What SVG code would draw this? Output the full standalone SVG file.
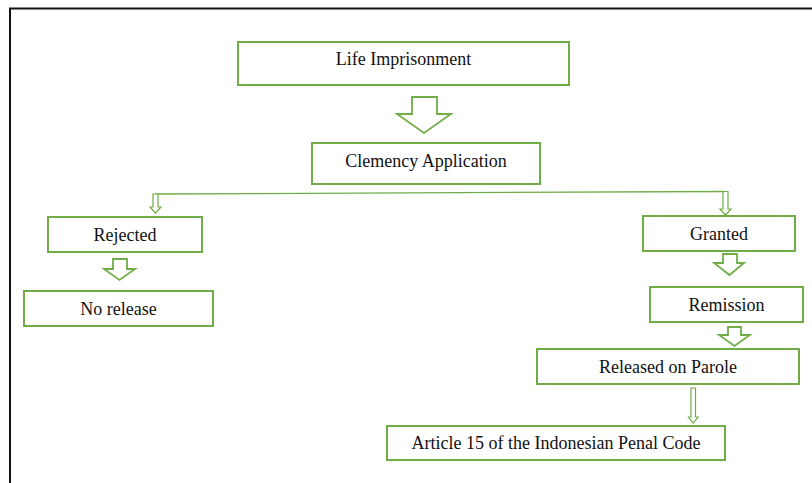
<svg xmlns="http://www.w3.org/2000/svg" width="812" height="483" viewBox="0 0 812 483">
<style>
.box{fill:#fff;stroke:#70ad47;stroke-width:2}
.arr{fill:#fff;stroke:#70ad47;stroke-width:1.8;stroke-linejoin:miter}
.thin{fill:#fff;stroke:#70ad47;stroke-width:1.2}
.lbl{font-family:"Liberation Serif","Times New Roman",serif;font-size:18px;fill:#111;text-anchor:middle}
</style>
<rect width="812" height="483" fill="#fff"/>
<path d="M10,483 V8.5 H812" fill="none" stroke="#111" stroke-width="2"/>
<g id="connectors">
<polygon class="arr" points="412,97 437,97 437,114 451,114 424,133 397,114 412,114"/>
<line x1="155" y1="194" x2="725" y2="191.5" stroke="#70ad47" stroke-width="1.3"/>
<polygon class="thin" points="153,194 158,194 158,207 161,207 155.5,213 150,207 153,207"/>
<polygon class="thin" points="723,191.5 728,191.5 728,209 731,209 725.5,215 720,209 723,209"/>
<polygon class="arr" points="113,259 127,259 127,269 135,269 119.5,280 104,269 113,269"/>
<polygon class="arr" points="723,254 737,254 737,263 744,263 729.5,275 714,263 723,263"/>
<polygon class="arr" points="728,327 741,327 741,335 750,335 734.5,346 719,335 728,335"/>
<polygon class="thin" points="691,388 695.5,388 695.5,417 698,417 693.2,423 688.5,417 691,417"/>
</g>
<g id="life"><rect class="box" x="238" y="42" width="331" height="43"/><text class="lbl" x="403.5" y="65">Life Imprisonment</text></g>
<g id="clemency"><rect class="box" x="312" y="143" width="228" height="41"/><text class="lbl" x="426" y="167">Clemency Application</text></g>
<g id="rejected"><rect class="box" x="48" y="217" width="154" height="35"/><text class="lbl" x="125" y="241">Rejected</text></g>
<g id="norelease"><rect class="box" x="24" y="291" width="189" height="35"/><text class="lbl" x="118.5" y="315">No release</text></g>
<g id="granted"><rect class="box" x="643" y="216" width="152" height="35"/><text class="lbl" x="719" y="239.5">Granted</text></g>
<g id="remission"><rect class="box" x="650" y="287" width="153" height="35"/><text class="lbl" x="726.5" y="311">Remission</text></g>
<g id="parole"><rect class="box" x="537" y="349" width="262" height="35"/><text class="lbl" x="668" y="372.5">Released on Parole</text></g>
<g id="article"><rect class="box" x="387" y="426" width="338" height="34"/><text class="lbl" x="556" y="449">Article 15 of the Indonesian Penal Code</text></g>
</svg>
